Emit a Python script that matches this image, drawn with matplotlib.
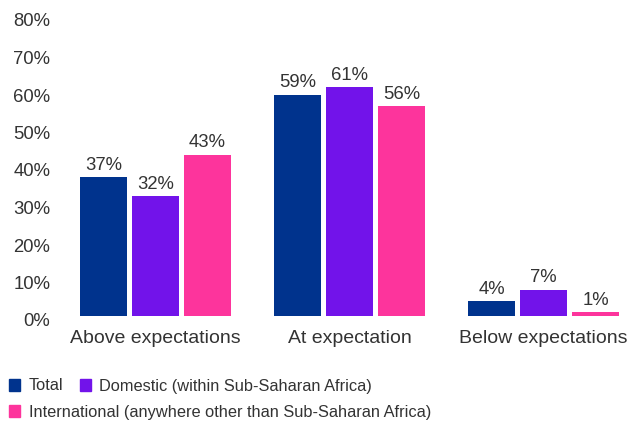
import numpy as np
import matplotlib.pyplot as plt
from matplotlib.patches import Patch
import matplotlib.transforms as mtransforms

plt.rcParams['font.family'] = ['Liberation Sans', 'DejaVu Sans']

categories = ['Above expectations', 'At expectation', 'Below expectations']
series = ['Total', 'Domestic (within Sub-Saharan Africa)',
          'International (anywhere other than Sub-Saharan Africa)']
total = [37, 59, 4]
domestic = [32, 61, 7]
international = [43, 56, 1]
colors = ['#00338D', '#7213EA', '#FD349C']
txt = '#333333'

W, H = 629, 422
fig = plt.figure(figsize=(W / 100, H / 100), dpi=100)
# axes placed in pixel coordinates: 0% at y=316, 80% at y=16
ax = fig.add_axes([60 / W, (H - 316) / H, (W - 60) / W, 300 / H])

x = np.arange(len(categories))
step = 52 / 194
width = 47 / 194
for i, (vals, c, name) in enumerate(zip([total, domestic, international], colors, series)):
    bars = ax.bar(x + (i - 1) * step, vals, width, color=c, label=name)
    for b, v in zip(bars, vals):
        ax.text(b.get_x() + b.get_width() / 2, v + 0.9, f'{v}%', ha='center', va='bottom',
                fontsize=13.3, color=txt)

ax.set_xlim(-(155.5 - 60) / 194, (629 - 155.5) / 194)
ax.set_ylim(0, 80)
ax.set_yticks(range(0, 81, 10))
ax.set_yticklabels([f'{t}%' for t in range(0, 81, 10)])
ax.set_xticks(x)
ax.set_xticklabels(categories)
ax.tick_params(length=0, labelcolor=txt)
ax.tick_params(axis='y', pad=7, labelsize=13.3)
ax.tick_params(axis='x', pad=10, labelsize=14)
off = mtransforms.ScaledTranslation(0, -4 / 100, fig.dpi_scale_trans)
for lab in ax.get_yticklabels():
    lab.set_transform(lab.get_transform() + off)
for s in ax.spines.values():
    s.set_visible(False)

h = [Patch(color=c) for c in colors]
kw = dict(frameon=False, fontsize=11.8, handlelength=0.7, handleheight=0.75,
          handletextpad=0.5, columnspacing=1.0, labelcolor=txt, borderaxespad=0, borderpad=0)
fig.legend(h[:2], series[:2], loc='center left', bbox_to_anchor=(9 / W, 1 - 386 / H), ncol=2, **kw)
fig.legend(h[2:], series[2:], loc='center left', bbox_to_anchor=(9 / W, 1 - 412 / H), **kw)

fig.savefig('out.png', dpi=100)
